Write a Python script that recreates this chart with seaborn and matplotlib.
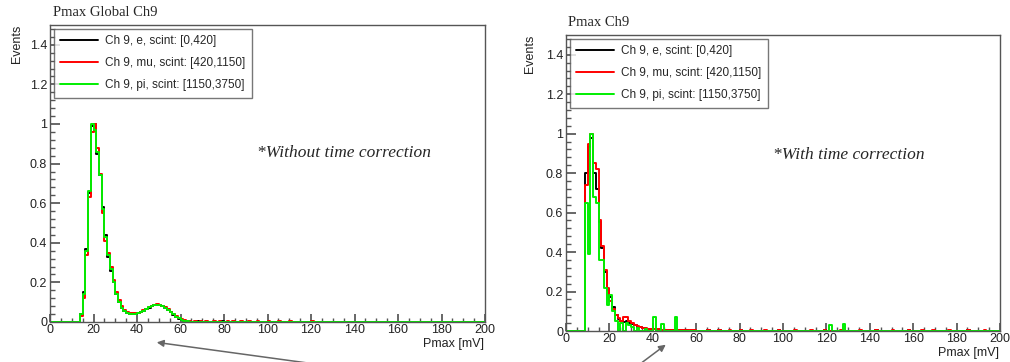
import numpy as np
import pandas as pd
import matplotlib
matplotlib.use("Agg")
import matplotlib.pyplot as plt
import seaborn as sns
from matplotlib.ticker import MultipleLocator, FuncFormatter
from matplotlib.lines import Line2D

sns.set_theme(style="white")
plt.rcParams['font.family'] = ['Liberation Sans', 'DejaVu Sans']

# 160 bins of 1.25 mV from 0 to 200
n_bins = 160
edges = [200.0 * i / n_bins for i in range(n_bins + 1)]
centers = (np.arange(n_bins) + 0.5) * 200.0 / n_bins

labels = ["Ch 9, e, scint: [0,420]", "Ch 9, mu, scint: [420,1150]", "Ch 9, pi, scint: [1150,3750]"]
colors = ["#000000", "#ff0000", "#00ee00"]

# left panel: without time correction (values start at bin 11)
left_start = 11
left_e = [0.04, 0.15, 0.37, 0.65, 0.99, 1.0, 0.85, 0.74, 0.58, 0.44, 0.33, 0.26, 0.2, 0.14, 0.1, 0.07,
          0.055, 0.046, 0.04, 0.038, 0.04, 0.043, 0.049, 0.057, 0.065, 0.073, 0.079, 0.084, 0.086, 0.084,
          0.079, 0.071, 0.061, 0.049, 0.037, 0.026, 0.017, 0.01, 0.006, 0.003, 0.001]
left_mu = [0.03, 0.12, 0.34, 0.63, 0.96, 1.0, 0.88, 0.75, 0.55, 0.41, 0.35, 0.28, 0.21, 0.15, 0.11, 0.08,
           0.06, 0.05, 0.045, 0.043, 0.044, 0.047, 0.053, 0.06, 0.068, 0.076, 0.083, 0.088, 0.09, 0.088,
           0.083, 0.075, 0.065, 0.053, 0.041, 0.03, 0.02, 0.013, 0.008, 0.005, 0.003]
left_pi = [0.04, 0.14, 0.36, 0.66, 1.0, 0.97, 0.86, 0.74, 0.57, 0.43, 0.34, 0.27, 0.2, 0.14, 0.1, 0.073,
           0.056, 0.047, 0.042, 0.04, 0.041, 0.044, 0.05, 0.058, 0.066, 0.074, 0.08, 0.085, 0.087, 0.085,
           0.08, 0.072, 0.062, 0.05, 0.038, 0.027, 0.018, 0.011, 0.006, 0.003, 0.001]
left_e_tail_bins = [54, 58, 63, 69, 75, 82]
left_e_tail_vals = [0.003, 0.002, 0.003, 0.002, 0.002, 0.002]
left_mu_tail_bins = [53, 55, 57, 60, 62, 65, 67, 70, 73, 76, 80, 84, 88, 96]
left_mu_tail_vals = [0.005, 0.004, 0.004, 0.004, 0.003, 0.004, 0.004, 0.003, 0.004, 0.003, 0.003, 0.004,
                     0.003, 0.003]

# right panel: with time correction (values start at bin 7)
right_start = 7
right_e = [0.80, 0.93, 0.98, 0.80, 0.72, 0.55, 0.42, 0.30, 0.21, 0.17, 0.12, 0.08, 0.06, 0.05, 0.045,
           0.05, 0.04, 0.035, 0.028, 0.022, 0.018, 0.015, 0.012, 0.01, 0.009, 0.008, 0.007, 0.007, 0.006,
           0.006, 0.005, 0.005, 0.004, 0.004, 0.004, 0.003, 0.003, 0.003, 0.002, 0.002, 0.002, 0.001]
right_mu = [0.74, 0.95, 1.0, 0.85, 0.82, 0.56, 0.43, 0.31, 0.22, 0.15, 0.11, 0.08, 0.065, 0.05, 0.07,
            0.07, 0.05, 0.04, 0.03, 0.025, 0.02, 0.016, 0.013, 0.011, 0.01, 0.009, 0.008, 0.008, 0.007,
            0.007, 0.006, 0.006, 0.005, 0.005, 0.005, 0.004, 0.004, 0.004, 0.003, 0.003, 0.003, 0.002]
right_pi = [0.65, 0.39, 1.0, 0.68, 0.65, 0.36, 0.36, 0.22, 0.13, 0.18, 0.10, 0.05, 0.0, 0.04, 0.0, 0.04,
            0.03, 0.02, 0.0, 0.015, 0.0, 0.0, 0.01, 0.0, 0.0, 0.07, 0.0, 0.0, 0.035, 0.0, 0.0, 0.0, 0.0,
            0.07]
right_tail_bins = [52, 56, 60, 64, 68, 73, 78, 84, 90, 95, 101, 108, 114, 120, 126, 131, 135, 141, 148, 154]
right_e_tail_vals = [0.003, 0.003, 0.002, 0.003, 0.002, 0.002, 0.003, 0.002, 0.002, 0.003, 0.002, 0.002,
                     0.003, 0.002, 0.003, 0.002, 0.002, 0.002, 0.003, 0.002]
right_mu_tail_vals = [0.004, 0.004, 0.003, 0.004, 0.003, 0.004, 0.003, 0.004, 0.003, 0.003, 0.004, 0.003,
                      0.003, 0.004, 0.004, 0.003, 0.003, 0.004, 0.004, 0.003]
right_pi_tail_bins = [97, 102]
right_pi_tail_vals = [0.03, 0.035]


def fill(start, vals, tail_bins=(), tail_vals=()):
    h = np.zeros(n_bins)
    h[start:start + len(vals)] = vals
    h[list(tail_bins)] = tail_vals
    return pd.DataFrame({"pmax": centers, "w": h})


left_hists = [fill(left_start, left_e, left_e_tail_bins, left_e_tail_vals),
              fill(left_start, left_mu, left_mu_tail_bins, left_mu_tail_vals),
              fill(left_start, left_pi)]
right_hists = [fill(right_start, right_e, right_tail_bins, right_e_tail_vals),
               fill(right_start, right_mu, right_tail_bins, right_mu_tail_vals),
               fill(right_start, right_pi, right_pi_tail_bins, right_pi_tail_vals)]

W, H = 1010, 362
fig = plt.figure(figsize=(W / 100, H / 100), dpi=100)
ax1 = fig.add_axes([50 / W, 1 - 322 / H, 435 / W, 297 / H])
ax2 = fig.add_axes([566 / W, 1 - 331 / H, 434 / W, 296 / H])

frame_col = "#555555"
for ax, hists in [(ax1, left_hists), (ax2, right_hists)]:
    for df, c in zip(hists, colors):
        sns.histplot(data=df, x="pmax", weights="w", bins=edges, element="step", fill=False,
                     color=c, linewidth=1.4, ax=ax)
    ax.set_xlim(0, 200)
    ax.set_ylim(0, 1.5)
    ax.set_xlabel("")
    ax.set_ylabel("")
    ax.xaxis.set_major_locator(MultipleLocator(20))
    ax.xaxis.set_minor_locator(MultipleLocator(5))
    ax.yaxis.set_major_locator(MultipleLocator(0.2))
    ax.yaxis.set_minor_locator(MultipleLocator(0.04))
    ax.yaxis.set_major_formatter(FuncFormatter(lambda v, p: "%g" % round(v, 2)))
    ax.tick_params(which="both", direction="in", colors=frame_col, labelcolor="#222222",
                   labelsize=9, top=False, right=False, left=True, bottom=True)
    ax.tick_params(axis="y", which="major", length=7, pad=2)
    ax.tick_params(axis="y", which="minor", length=3.5)
    ax.tick_params(axis="x", which="major", length=6, pad=1.5)
    ax.tick_params(axis="x", which="minor", length=3)
    for s in ax.spines.values():
        s.set_color(frame_col)
        s.set_linewidth(1.0)

    handles = [Line2D([], [], color=c, linewidth=1.4) for c in colors]
    leg = ax.legend(handles, labels, loc="upper left", fontsize=8.5, frameon=True, fancybox=False,
                    edgecolor=frame_col, handlelength=3.2, handletextpad=0.6, labelspacing=0.85,
                    borderpad=0.55, borderaxespad=0.3)
    leg.get_frame().set_linewidth(1.0)

serif = ['Liberation Serif', 'DejaVu Serif']
fig.text(53 / W, 1 - 13 / H, "Pmax Global Ch9", family=serif, fontsize=10.5, va="center", ha="left")
fig.text(568 / W, 1 - 23 / H, "Pmax Ch9", family=serif, fontsize=10.5, va="center", ha="left")
fig.text(257 / W, 1 - 153 / H, "*Without time correction", family=serif, style="italic",
         fontsize=12.5, va="center", ha="left")
fig.text(773 / W, 1 - 155 / H, "*With time correction", family=serif, style="italic",
         fontsize=12.5, va="center", ha="left")
fig.text(17 / W, 1 - 25 / H, "Events", rotation=90, fontsize=9, va="top", ha="center", color="#222222")
fig.text(530 / W, 1 - 35 / H, "Events", rotation=90, fontsize=9, va="top", ha="center", color="#222222")
fig.text(484 / W, 1 - 344 / H, "Pmax [mV]", fontsize=9, va="center", ha="right", color="#222222")
fig.text(999 / W, 1 - 353 / H, "Pmax [mV]", fontsize=9, va="center", ha="right", color="#222222")

# pointer arrows from below the panels
arrow = dict(arrowstyle="-|>", color="#666666", lw=1.1, mutation_scale=10)
ax1.annotate("", xy=(154, H - 342), xytext=(315, -2), xycoords="figure pixels",
             textcoords="figure pixels", arrowprops=arrow)
ax2.annotate("", xy=(668, H - 343), xytext=(640, -2), xycoords="figure pixels",
             textcoords="figure pixels", arrowprops=arrow)

fig.savefig("out.png", dpi=100)
